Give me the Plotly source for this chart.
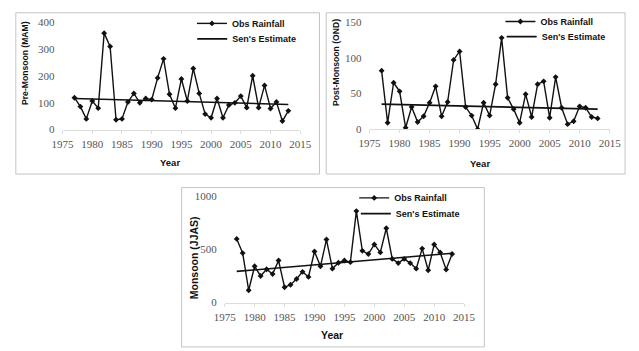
import plotly.graph_objects as go

years = list(range(1977, 2014))

mam_obs = [119, 86, 40, 107, 80, 360, 310, 37, 40, 103, 135, 100, 116, 112, 193, 264,
           132, 80, 189, 107, 228, 135, 58, 44, 116, 44, 92, 100, 125, 82, 201, 82,
           165, 79, 103, 32, 70]
mam_sen = [116, 94]

ond_obs = [82, 9, 65, 53, 2, 31, 10, 18, 37, 60, 18, 38, 97, 109, 31, 19,
           0, 37, 19, 63, 128, 44, 28, 9, 49, 17, 63, 67, 16, 73, 30, 7,
           11, 32, 30, 17, 15]
ond_sen = [35, 28]

jjas_obs = [597, 464, 115, 340, 249, 312, 267, 394, 143, 167, 221, 288, 240, 479, 340, 591,
            318, 373, 394, 379, 858, 485, 455, 545, 470, 697, 409, 370, 409, 370, 318, 506,
            303, 545, 470, 309, 455]
jjas_sen = [292, 462]

sen_years = [1977, 2013]
x_ticks = [1975, 1980, 1985, 1990, 1995, 2000, 2005, 2010, 2015]

W, H = 639, 351

def px(x):
    return x / W

def py(y):
    return (H - y) / H

panels = [
    dict(obs=mam_obs, sen=mam_sen, xd=[53.5, 300], yd=[128, 17], yr=[0, 400], dt=100,
         title="Pre-Monsoon (MAM)", tpos=(14.5, 59), tsize=8.6, year=(165, 162), ysize=9.5,
         leg1=(231.7, 22), leg2=(232, 38), ldy=19, box=(5, 7, 320, 174)),
    dict(obs=ond_obs, sen=ond_sen, xd=[372, 621], yd=[127.5, 16.7], yr=[0, 150], dt=50,
         title="Post-Monsoon (OND)", tpos=(337, 58), tsize=8.6, year=(486, 163), ysize=9.5,
         leg1=(551.7, 20), leg2=(553, 35.7), ldy=19, box=(327, 7, 637, 174)),
    dict(obs=jjas_obs, sen=jjas_sen, xd=[221.7, 470], yd=[307, 196.7], yr=[0, 1000], dt=500,
         title="Monsoon (JJAS)", tpos=(190, 261), tsize=10.5, year=(333, 341), ysize=10.5,
         leg1=(400, 197.7), leg2=(401.7, 214), ldy=14, box=(177, 188, 491, 353)),
]

fig = go.Figure()
annotations = []
shapes = []
tick_font = dict(family="Liberation Serif", size=11, color="#555555")
LEG_DX = 44

def legend_name(k):
    return "legend" if k == 1 else "legend" + str(k)

for i, p in enumerate(panels):
    n = "" if i == 0 else str(i + 1)
    lg1 = legend_name(2 * i + 1)
    lg2 = legend_name(2 * i + 2)
    fig.add_trace(go.Scatter(
        x=years, y=p["obs"], mode="lines+markers", name="<b>Obs Rainfall</b>",
        line=dict(color="#111111", width=1.4),
        marker=dict(symbol="diamond", size=4.5, color="#111111"),
        xaxis="x" + n, yaxis="y" + n, legend=lg1))
    fig.add_trace(go.Scatter(
        x=sen_years, y=p["sen"], mode="lines", name="<b>Sen's Estimate</b>",
        line=dict(color="#111111", width=1.6),
        xaxis="x" + n, yaxis="y" + n, legend=lg2))

    fig.layout["xaxis" + n] = dict(
        domain=[px(p["xd"][0]), px(p["xd"][1])], range=[1975, 2015],
        anchor="y" + n, tickvals=x_ticks, showgrid=False, zeroline=False,
        showline=True, linecolor="#dcdcdc", linewidth=1,
        ticks="outside", ticklen=3, tickcolor="#dcdcdc",
        tickfont=tick_font, ticklabelstandoff=1)
    fig.layout["yaxis" + n] = dict(
        domain=[py(p["yd"][0]), py(p["yd"][1])], range=p["yr"],
        anchor="x" + n, dtick=p["dt"], tick0=0, showgrid=False, zeroline=False,
        showline=False, ticks="", tickfont=tick_font, ticklabelstandoff=7)

    for lg, pos in ((lg1, p["leg1"]), (lg2, p["leg2"])):
        fig.layout[lg] = dict(
            x=px(pos[0] - LEG_DX), y=py(pos[1] - p["ldy"]), xanchor="left", yanchor="top",
            bgcolor="rgba(0,0,0,0)",
            font=dict(family="Liberation Sans", size=9, color="#111111"),
            itemwidth=30)

    annotations.append(dict(
        text="<b>" + p["title"] + "</b>", x=px(p["tpos"][0]), y=py(p["tpos"][1]),
        xref="paper", yref="paper", textangle=-90, showarrow=False,
        xanchor="center", yanchor="middle",
        font=dict(family="Liberation Sans", size=p["tsize"], color="#111111")))
    annotations.append(dict(
        text="<b>Year</b>", x=px(p["year"][0]), y=py(p["year"][1]),
        xref="paper", yref="paper", showarrow=False, xanchor="center", yanchor="middle",
        font=dict(family="Liberation Sans", size=p["ysize"], color="#111111")))

    b = p["box"]
    shapes.append(dict(type="rect", xref="paper", yref="paper",
                       x0=px(b[0]), x1=px(b[2]), y0=py(b[3]), y1=py(b[1]),
                       line=dict(color="#c4c4c4", width=1), fillcolor="rgba(0,0,0,0)",
                       layer="below"))

fig.update_layout(
    width=W, height=H, margin=dict(l=0, r=0, t=0, b=0),
    paper_bgcolor="white", plot_bgcolor="white",
    annotations=annotations, shapes=shapes, showlegend=True)

fig.write_html("out.html", config={"displayModeBar": False},
               post_script="document.body.style.margin='0';document.body.style.overflow='hidden';")
